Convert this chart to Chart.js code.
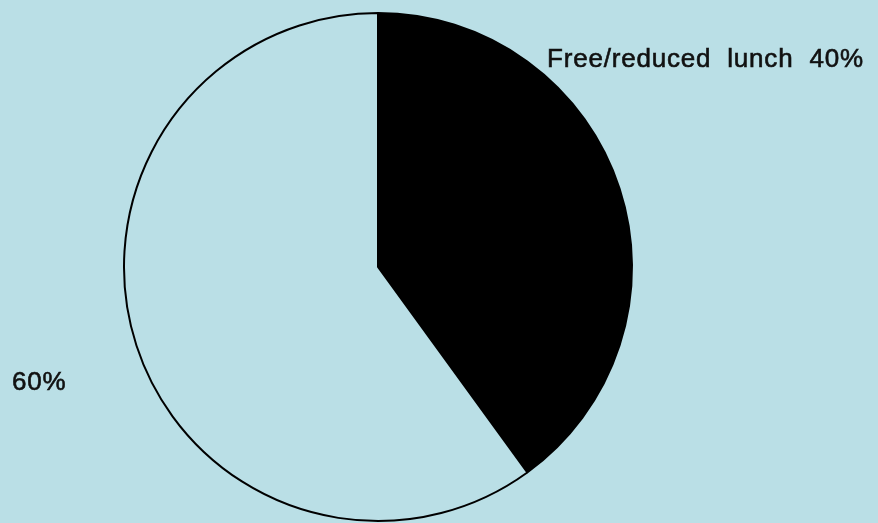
<!DOCTYPE html>
<html>
<head>
<meta charset="utf-8">
<script src="https://cdn.jsdelivr.net/npm/chart.js@4"></script>
<style>
  html, body { margin: 0; padding: 0; background: #badfe6; }
  #wrap { width: 878px; height: 523px; }
</style>
</head>
<body>
<div id="wrap"><canvas id="lunchChart" width="878" height="523"></canvas></div>
<script>
// lunch status shares, percent
const categories = ['Free/reduced lunch', ''];
const shares = [40, 60];
const sliceColors = ['#000000', '#badfe6'];

// where each slice's caption goes
const labelSpots = [
    { x: 547, y: 67, align: 'left' },
    { x: 12, y: 390, align: 'left' }
];

const bgPlugin = {
    id: 'bg',
    beforeDraw(chart) {
        const ctx = chart.ctx;
        ctx.save();
        ctx.fillStyle = '#badfe6';
        ctx.fillRect(0, 0, chart.width, chart.height);
        ctx.restore();
    }
};

const captionPlugin = {
    id: 'captions',
    afterDraw(chart) {
        const ctx = chart.ctx;
        ctx.save();
        ctx.fillStyle = '#111111';
        ctx.strokeStyle = '#111111';
        ctx.lineWidth = 0.6;
        ctx.font = '26px "Liberation Sans", Arial, sans-serif';
        ctx.letterSpacing = '0.8px';
        ctx.wordSpacing = '8px';
        ctx.textBaseline = 'alphabetic';
        shares.forEach(function(val, i) {
            var spot = labelSpots[i];
            var txt = (categories[i] ? categories[i] + ' ' : '') + val + '%';
            ctx.textAlign = spot.align;
            ctx.fillText(txt, spot.x, spot.y);
            ctx.strokeText(txt, spot.x, spot.y); // a touch heavier
        });
        ctx.restore();
    }
};

const config = {
    type: 'pie',
    data: {
        labels: categories,
        datasets: [{
            data: shares,
            backgroundColor: sliceColors,
            borderColor: '#000000',
            borderWidth: 2
        }]
    },
    options: {
        responsive: false,
        animation: false,
        layout: { padding: { top: 12, bottom: 1, left: 0, right: 122 } },
        plugins: {
            legend: { display: false },
            tooltip: { enabled: false }
        }
    },
    plugins: [bgPlugin, captionPlugin]
};

var lunchChart = new Chart(document.getElementById('lunchChart'), config);
</script>
</body>
</html>
